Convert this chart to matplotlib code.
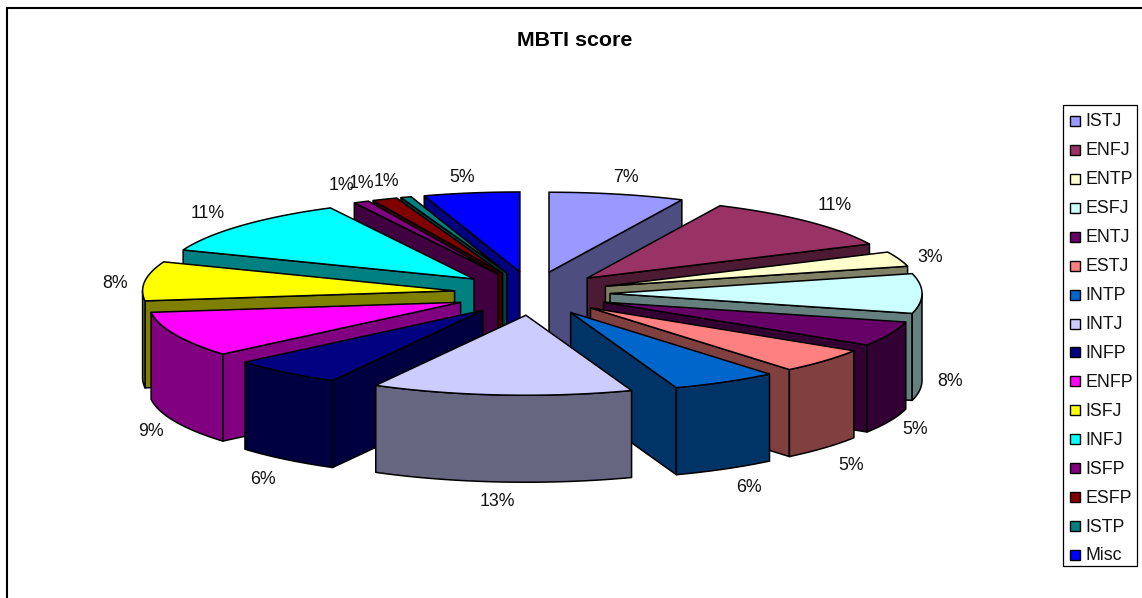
import numpy as np
import matplotlib
matplotlib.use('Agg')
import matplotlib.pyplot as plt
from matplotlib.patches import Polygon, Rectangle

plt.rcParams['font.family'] = ['Liberation Sans', 'DejaVu Sans']

types = ['ISTJ', 'ENFJ', 'ENTP', 'ESFJ', 'ENTJ', 'ESTJ', 'INTP', 'INTJ',
         'INFP', 'ENFP', 'ISFJ', 'INFJ', 'ISFP', 'ESFP', 'ISTP', 'Misc']
share = [7, 11, 3, 8, 5, 5, 5.5, 13.49, 5.8, 9.21, 7.9, 11.49, 0.8, 1.3, 0.55, 4.96]
colors = ['#9999FF', '#993366', '#FFFFCC', '#CCFFFF', '#660066', '#FF8080',
          '#0066CC', '#CCCCFF', '#000080', '#FF00FF', '#FFFF00', '#00FFFF',
          '#800080', '#800000', '#008080', '#0000FF']
# where the percent labels sit, in pixels
label_x = [626, 835, 930, 950, 915, 851, 749, 497, 263, 151, 115, 208, 341, 361, 386, 462]
label_y = [177, 205, 257, 382, 429, 465, 488, 502, 480, 431, 283, 213, 186, 183, 182, 177]

cx, cy = 532, 293.5
rx, ry = 312, 80
ex, ey = 78, 21.8
depth = 87

fig = plt.figure(figsize=(11.42, 5.98), dpi=100)
ax = fig.add_axes([0, 0, 1, 1])
ax.set_xlim(0, 1142)
ax.set_ylim(598, 0)
ax.axis('off')


def darker(c):
    return tuple(v * 0.5 for v in matplotlib.colors.to_rgb(c))


def rim(a, x0, y0):
    return x0 + rx * np.sin(a), y0 - ry * np.cos(a)


ax.add_patch(Rectangle((7, 8), 1140, 600, fc='white', ec='black', lw=1.5))

edges = np.radians(np.cumsum([0] + share) / sum(share) * 360)
slices = []
for i in range(len(share)):
    slices.append((edges[i], edges[i + 1], colors[i]))

# back slices first so the front ones cover them
for a0, a1, col in sorted(slices, key=lambda s: -np.cos((s[0] + s[1]) / 2)):
    mid = (a0 + a1) / 2
    x0 = cx + ex * np.sin(mid)
    y0 = cy - ey * np.cos(mid)
    side = darker(col)
    kw = dict(fc=side, ec='black', lw=1.1, joinstyle='round')

    # radial walls
    for a, seen in ((a0, np.sin(a0) < 0), (a1, np.sin(a1) > 0)):
        if seen:
            x1, y1 = rim(a, x0, y0)
            ax.add_patch(Polygon([(x0, y0), (x1, y1), (x1, y1 + depth), (x0, y0 + depth)], **kw))

    # outer wall, only the part facing us
    lo, hi = max(a0, np.pi / 2), min(a1, 3 * np.pi / 2)
    if lo < hi:
        t = np.linspace(lo, hi, 40)
        xs, ys = rim(t, x0, y0)
        pts = list(zip(xs, ys)) + list(zip(xs[::-1], ys[::-1] + depth))
        ax.add_patch(Polygon(pts, **kw))

    # top face
    t = np.linspace(a0, a1, 60)
    xs, ys = rim(t, x0, y0)
    ax.add_patch(Polygon([(x0, y0)] + list(zip(xs, ys)), fc=col, ec='black', lw=1.1))

for x, y, v in zip(label_x, label_y, share):
    ax.text(x, y, '%.0f%%' % v, ha='center', va='center', fontsize=12.8, color='#111111')

ax.text(575, 41, 'MBTI score', ha='center', va='center', fontsize=15.4, fontweight='bold')

# legend
ax.add_patch(Rectangle((1063, 105), 74, 461, fc='white', ec='black', lw=0.9))
row = 28.93
for i, name in enumerate(types):
    y = 121 + row * i
    ax.add_patch(Rectangle((1069.5, y - 5), 10, 10, fc=colors[i], ec='black', lw=1))
    ax.text(1085.5, y + 1, name, ha='left', va='center', fontsize=12.8, color='#111111')

fig.savefig('out.png', dpi=100)
